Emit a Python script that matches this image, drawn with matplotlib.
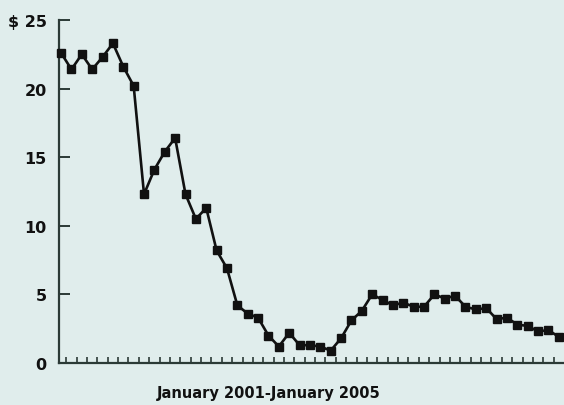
import numpy as np
import matplotlib.pyplot as plt

BG_COLOR = '#e0edec'
AXIS_COLOR = '#2b3a36'

# monthly values, January 2001 - January 2005
months = list(range(49))
prices = [22.6, 21.4, 22.5, 21.4, 22.3, 23.3, 21.6, 20.2, 12.3, 14.1,
          15.4, 16.4, 12.3, 10.5, 11.3, 8.2, 6.9, 4.2, 3.6, 3.3,
          2.0, 1.2, 2.2, 1.3, 1.3, 1.2, 0.9, 1.8, 3.1, 3.8,
          5.0, 4.6, 4.2, 4.4, 4.1, 4.1, 5.0, 4.7, 4.9, 4.1,
          3.9, 4.0, 3.2, 3.3, 2.8, 2.7, 2.3, 2.4, 1.9]
y_ticks = [0, 5, 10, 15, 20, 25]
y_tick_labels = ['0', '5', '10', '15', '20', '$ 25']
x_label = 'January 2001-January 2005'

fig = plt.figure(figsize=(5.64, 4.06), dpi=100, facecolor=BG_COLOR)
ax = fig.add_axes([59 / 564, 1 - 364 / 406, 1 - 59 / 564, (364 - 21) / 406])
ax.set_facecolor(BG_COLOR)

ax.plot(months, prices, color='#111111', linewidth=1.9, marker='s',
        markersize=6.2, markerfacecolor='#111111', markeredgecolor='#111111',
        clip_on=False, zorder=3)

ax.set_xlim(-0.2, 48.5)
ax.set_ylim(0, 25)

for s in ['top', 'right']:
    ax.spines[s].set_visible(False)
for s in ['left', 'bottom']:
    ax.spines[s].set_color(AXIS_COLOR)
    ax.spines[s].set_linewidth(1.6)

ax.set_yticks(y_ticks)
ax.set_yticklabels(y_tick_labels, fontsize=11.5, fontweight='bold', color='#111111')
ax.tick_params(axis='y', direction='in', length=8, width=1.4, color=AXIS_COLOR, pad=9)

ax.set_xticks([m + 0.5 for m in months[:-1]])
ax.set_xticklabels([])
ax.tick_params(axis='x', direction='in', length=4, width=1.2, color=AXIS_COLOR)

fig.text(269 / 564, 1 - 394 / 406, x_label, ha='center', va='center',
         fontsize=10.5, fontweight='bold', color='#111111')

fig.savefig('out.png', dpi=100, facecolor=BG_COLOR)
